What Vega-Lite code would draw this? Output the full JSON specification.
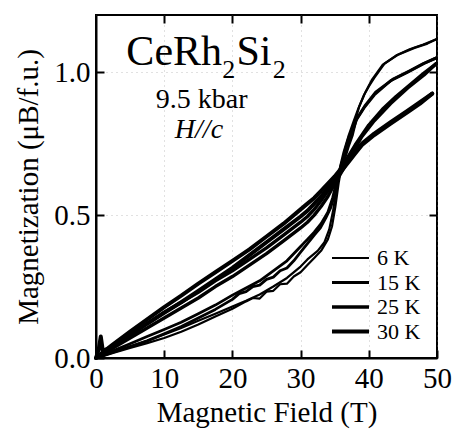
{
"$schema": "https://vega.github.io/schema/vega-lite/v6.json",
"autosize": {"type": "none"},
"padding": {"left": 96, "top": 15, "right": 17, "bottom": 71},
"width": 341,
"height": 343,
"background": "white",
"config": {
  "view": {"stroke": "black", "strokeWidth": 2},
  "font": "Liberation Serif",
  "axis": {"domainColor": "black", "domainWidth": 2, "tickColor": "black", "tickWidth": 2, "tickSize": -8,
    "labelFont": "Liberation Serif", "labelFontSize": 29, "labelColor": "black",
    "titleFont": "Liberation Serif", "titleFontSize": 29, "titleFontWeight": "normal", "titleColor": "black",
    "gridColor": "#888", "gridDash": [1, 4], "gridOpacity": 0.5, "gridWidth": 1},
  "text": {"font": "Liberation Serif", "color": "black"}
},
"datasets": {
"mag": [
{"T":"6 K","s":"u","H":0,"M":0},{"T":"6 K","s":"u","H":1,"M":0.006},{"T":"6 K","s":"u","H":2.5,"M":0.018},{"T":"6 K","s":"u","H":5,"M":0.035},{"T":"6 K","s":"u","H":7.5,"M":0.052},{"T":"6 K","s":"u","H":10,"M":0.07},{"T":"6 K","s":"u","H":12.5,"M":0.092},{"T":"6 K","s":"u","H":15,"M":0.117},{"T":"6 K","s":"u","H":17.5,"M":0.145},{"T":"6 K","s":"u","H":20,"M":0.172},{"T":"6 K","s":"u","H":22,"M":0.198},{"T":"6 K","s":"u","H":23,"M":0.21},{"T":"6 K","s":"u","H":24,"M":0.208},{"T":"6 K","s":"u","H":25,"M":0.232},{"T":"6 K","s":"u","H":26,"M":0.235},{"T":"6 K","s":"u","H":27,"M":0.258},{"T":"6 K","s":"u","H":28,"M":0.26},{"T":"6 K","s":"u","H":29,"M":0.285},{"T":"6 K","s":"u","H":30,"M":0.3},{"T":"6 K","s":"u","H":31,"M":0.325},{"T":"6 K","s":"u","H":32,"M":0.35},{"T":"6 K","s":"u","H":33,"M":0.375},{"T":"6 K","s":"u","H":34,"M":0.415},{"T":"6 K","s":"u","H":34.6,"M":0.46},{"T":"6 K","s":"u","H":35.1,"M":0.53},{"T":"6 K","s":"u","H":35.6,"M":0.615},{"T":"6 K","s":"u","H":36,"M":0.67},{"T":"6 K","s":"u","H":36.5,"M":0.73},{"T":"6 K","s":"u","H":37,"M":0.77},{"T":"6 K","s":"u","H":37.5,"M":0.8},{"T":"6 K","s":"u","H":38,"M":0.83},{"T":"6 K","s":"u","H":38.6,"M":0.88},{"T":"6 K","s":"u","H":39.3,"M":0.92},{"T":"6 K","s":"u","H":40,"M":0.95},{"T":"6 K","s":"u","H":40.8,"M":0.98},{"T":"6 K","s":"u","H":42.3,"M":1.03},{"T":"6 K","s":"u","H":44.2,"M":1.06},{"T":"6 K","s":"u","H":46.7,"M":1.085},{"T":"6 K","s":"u","H":48.6,"M":1.1},{"T":"6 K","s":"u","H":49.9,"M":1.115},
{"T":"6 K","s":"d","H":0,"M":0},{"T":"6 K","s":"d","H":1,"M":0.008},{"T":"6 K","s":"d","H":2.5,"M":0.02},{"T":"6 K","s":"d","H":5,"M":0.04},{"T":"6 K","s":"d","H":7.5,"M":0.06},{"T":"6 K","s":"d","H":10,"M":0.082},{"T":"6 K","s":"d","H":12.5,"M":0.105},{"T":"6 K","s":"d","H":15,"M":0.13},{"T":"6 K","s":"d","H":17.5,"M":0.155},{"T":"6 K","s":"d","H":20,"M":0.18},{"T":"6 K","s":"d","H":22,"M":0.2},{"T":"6 K","s":"d","H":24,"M":0.222},{"T":"6 K","s":"d","H":26,"M":0.25},{"T":"6 K","s":"d","H":28,"M":0.28},{"T":"6 K","s":"d","H":30,"M":0.32},{"T":"6 K","s":"d","H":31,"M":0.345},{"T":"6 K","s":"d","H":32.5,"M":0.375},{"T":"6 K","s":"d","H":33.5,"M":0.405},{"T":"6 K","s":"d","H":34.2,"M":0.45},{"T":"6 K","s":"d","H":34.8,"M":0.52},{"T":"6 K","s":"d","H":35.3,"M":0.6},{"T":"6 K","s":"d","H":35.8,"M":0.67},{"T":"6 K","s":"d","H":36.3,"M":0.72},{"T":"6 K","s":"d","H":37,"M":0.775},{"T":"6 K","s":"d","H":37.8,"M":0.83},{"T":"6 K","s":"d","H":38.5,"M":0.875},{"T":"6 K","s":"d","H":39.5,"M":0.93},{"T":"6 K","s":"d","H":40.5,"M":0.975},{"T":"6 K","s":"d","H":42,"M":1.025},{"T":"6 K","s":"d","H":44,"M":1.058},{"T":"6 K","s":"d","H":46,"M":1.08},{"T":"6 K","s":"d","H":48,"M":1.097},{"T":"6 K","s":"d","H":49.9,"M":1.115},
{"T":"15 K","s":"u","H":0,"M":0},{"T":"15 K","s":"u","H":1,"M":0.008},{"T":"15 K","s":"u","H":2.5,"M":0.02},{"T":"15 K","s":"u","H":5,"M":0.04},{"T":"15 K","s":"u","H":7.5,"M":0.06},{"T":"15 K","s":"u","H":10,"M":0.085},{"T":"15 K","s":"u","H":12.5,"M":0.11},{"T":"15 K","s":"u","H":15,"M":0.14},{"T":"15 K","s":"u","H":17.5,"M":0.17},{"T":"15 K","s":"u","H":20,"M":0.205},{"T":"15 K","s":"u","H":21,"M":0.225},{"T":"15 K","s":"u","H":22,"M":0.232},{"T":"15 K","s":"u","H":23,"M":0.25},{"T":"15 K","s":"u","H":24,"M":0.255},{"T":"15 K","s":"u","H":25,"M":0.275},{"T":"15 K","s":"u","H":26,"M":0.283},{"T":"15 K","s":"u","H":27,"M":0.305},{"T":"15 K","s":"u","H":28,"M":0.315},{"T":"15 K","s":"u","H":29,"M":0.34},{"T":"15 K","s":"u","H":30,"M":0.37},{"T":"15 K","s":"u","H":31,"M":0.4},{"T":"15 K","s":"u","H":32,"M":0.43},{"T":"15 K","s":"u","H":32.9,"M":0.455},{"T":"15 K","s":"u","H":33.7,"M":0.49},{"T":"15 K","s":"u","H":34.4,"M":0.525},{"T":"15 K","s":"u","H":35.1,"M":0.58},{"T":"15 K","s":"u","H":35.6,"M":0.635},{"T":"15 K","s":"u","H":36,"M":0.665},{"T":"15 K","s":"u","H":36.5,"M":0.7},{"T":"15 K","s":"u","H":37,"M":0.74},{"T":"15 K","s":"u","H":37.6,"M":0.78},{"T":"15 K","s":"u","H":38.1,"M":0.83},{"T":"15 K","s":"u","H":39.3,"M":0.875},{"T":"15 K","s":"u","H":40.8,"M":0.92},{"T":"15 K","s":"u","H":43.2,"M":0.97},{"T":"15 K","s":"u","H":45.7,"M":1.0},{"T":"15 K","s":"u","H":48.1,"M":1.03},{"T":"15 K","s":"u","H":49.9,"M":1.05},
{"T":"15 K","s":"d","H":0,"M":0},{"T":"15 K","s":"d","H":1,"M":0.01},{"T":"15 K","s":"d","H":2.5,"M":0.025},{"T":"15 K","s":"d","H":5,"M":0.05},{"T":"15 K","s":"d","H":7.5,"M":0.075},{"T":"15 K","s":"d","H":10,"M":0.1},{"T":"15 K","s":"d","H":12.5,"M":0.125},{"T":"15 K","s":"d","H":15,"M":0.155},{"T":"15 K","s":"d","H":17.5,"M":0.185},{"T":"15 K","s":"d","H":20,"M":0.22},{"T":"15 K","s":"d","H":22,"M":0.245},{"T":"15 K","s":"d","H":24,"M":0.27},{"T":"15 K","s":"d","H":26,"M":0.305},{"T":"15 K","s":"d","H":28,"M":0.34},{"T":"15 K","s":"d","H":30,"M":0.39},{"T":"15 K","s":"d","H":31,"M":0.415},{"T":"15 K","s":"d","H":32,"M":0.44},{"T":"15 K","s":"d","H":33,"M":0.47},{"T":"15 K","s":"d","H":34,"M":0.51},{"T":"15 K","s":"d","H":34.7,"M":0.56},{"T":"15 K","s":"d","H":35.3,"M":0.62},{"T":"15 K","s":"d","H":36,"M":0.68},{"T":"15 K","s":"d","H":36.8,"M":0.735},{"T":"15 K","s":"d","H":37.5,"M":0.785},{"T":"15 K","s":"d","H":38.3,"M":0.84},{"T":"15 K","s":"d","H":39.5,"M":0.885},{"T":"15 K","s":"d","H":41,"M":0.93},{"T":"15 K","s":"d","H":43.5,"M":0.975},{"T":"15 K","s":"d","H":46,"M":1.005},{"T":"15 K","s":"d","H":48,"M":1.03},{"T":"15 K","s":"d","H":49.9,"M":1.05},
{"T":"25 K","s":"u","H":0,"M":0},{"T":"25 K","s":"u","H":1,"M":0.012},{"T":"25 K","s":"u","H":2.5,"M":0.035},{"T":"25 K","s":"u","H":5,"M":0.07},{"T":"25 K","s":"u","H":7.5,"M":0.105},{"T":"25 K","s":"u","H":10,"M":0.14},{"T":"25 K","s":"u","H":12.5,"M":0.175},{"T":"25 K","s":"u","H":15,"M":0.21},{"T":"25 K","s":"u","H":17.5,"M":0.25},{"T":"25 K","s":"u","H":20,"M":0.285},{"T":"25 K","s":"u","H":22.5,"M":0.325},{"T":"25 K","s":"u","H":25,"M":0.365},{"T":"25 K","s":"u","H":27.5,"M":0.41},{"T":"25 K","s":"u","H":30,"M":0.455},{"T":"25 K","s":"u","H":31,"M":0.475},{"T":"25 K","s":"u","H":32,"M":0.5},{"T":"25 K","s":"u","H":33,"M":0.53},{"T":"25 K","s":"u","H":34,"M":0.565},{"T":"25 K","s":"u","H":35,"M":0.61},{"T":"25 K","s":"u","H":36,"M":0.65},{"T":"25 K","s":"u","H":37,"M":0.69},{"T":"25 K","s":"u","H":38,"M":0.735},{"T":"25 K","s":"u","H":39,"M":0.775},{"T":"25 K","s":"u","H":40.8,"M":0.83},{"T":"25 K","s":"u","H":43.2,"M":0.89},{"T":"25 K","s":"u","H":45.7,"M":0.945},{"T":"25 K","s":"u","H":48.1,"M":0.99},{"T":"25 K","s":"u","H":49.9,"M":1.03},
{"T":"25 K","s":"d","H":0,"M":0},{"T":"25 K","s":"d","H":1,"M":0.015},{"T":"25 K","s":"d","H":2.5,"M":0.04},{"T":"25 K","s":"d","H":5,"M":0.08},{"T":"25 K","s":"d","H":7.5,"M":0.12},{"T":"25 K","s":"d","H":10,"M":0.16},{"T":"25 K","s":"d","H":12.5,"M":0.195},{"T":"25 K","s":"d","H":15,"M":0.23},{"T":"25 K","s":"d","H":17.5,"M":0.27},{"T":"25 K","s":"d","H":20,"M":0.305},{"T":"25 K","s":"d","H":22.5,"M":0.345},{"T":"25 K","s":"d","H":25,"M":0.385},{"T":"25 K","s":"d","H":27.5,"M":0.43},{"T":"25 K","s":"d","H":30,"M":0.475},{"T":"25 K","s":"d","H":31,"M":0.495},{"T":"25 K","s":"d","H":32,"M":0.52},{"T":"25 K","s":"d","H":33,"M":0.55},{"T":"25 K","s":"d","H":34,"M":0.585},{"T":"25 K","s":"d","H":35,"M":0.625},{"T":"25 K","s":"d","H":36,"M":0.665},{"T":"25 K","s":"d","H":37,"M":0.705},{"T":"25 K","s":"d","H":38,"M":0.745},{"T":"25 K","s":"d","H":40,"M":0.815},{"T":"25 K","s":"d","H":42,"M":0.87},{"T":"25 K","s":"d","H":44,"M":0.915},{"T":"25 K","s":"d","H":46,"M":0.955},{"T":"25 K","s":"d","H":48,"M":0.995},{"T":"25 K","s":"d","H":49.9,"M":1.03},
{"T":"30 K","s":"u","H":0,"M":0},{"T":"30 K","s":"u","H":0.4,"M":0.03},{"T":"30 K","s":"u","H":0.7,"M":0.075},{"T":"30 K","s":"u","H":1,"M":0.025},{"T":"30 K","s":"u","H":2.5,"M":0.04},{"T":"30 K","s":"u","H":5,"M":0.08},{"T":"30 K","s":"u","H":7.5,"M":0.12},{"T":"30 K","s":"u","H":10,"M":0.158},{"T":"30 K","s":"u","H":12.5,"M":0.195},{"T":"30 K","s":"u","H":15,"M":0.235},{"T":"30 K","s":"u","H":17.5,"M":0.275},{"T":"30 K","s":"u","H":20,"M":0.315},{"T":"30 K","s":"u","H":22.5,"M":0.36},{"T":"30 K","s":"u","H":25,"M":0.405},{"T":"30 K","s":"u","H":27.5,"M":0.45},{"T":"30 K","s":"u","H":30,"M":0.495},{"T":"30 K","s":"u","H":31,"M":0.515},{"T":"30 K","s":"u","H":32,"M":0.54},{"T":"30 K","s":"u","H":33,"M":0.565},{"T":"30 K","s":"u","H":34,"M":0.595},{"T":"30 K","s":"u","H":35,"M":0.625},{"T":"30 K","s":"u","H":36,"M":0.655},{"T":"30 K","s":"u","H":37,"M":0.685},{"T":"30 K","s":"u","H":38,"M":0.715},{"T":"30 K","s":"u","H":39,"M":0.745},{"T":"30 K","s":"u","H":40.8,"M":0.78},{"T":"30 K","s":"u","H":43.2,"M":0.82},{"T":"30 K","s":"u","H":45.7,"M":0.86},{"T":"30 K","s":"u","H":47.5,"M":0.89},{"T":"30 K","s":"u","H":49.3,"M":0.925},
{"T":"30 K","s":"d","H":0,"M":0},{"T":"30 K","s":"d","H":1,"M":0.02},{"T":"30 K","s":"d","H":2.5,"M":0.048},{"T":"30 K","s":"d","H":5,"M":0.092},{"T":"30 K","s":"d","H":7.5,"M":0.135},{"T":"30 K","s":"d","H":10,"M":0.178},{"T":"30 K","s":"d","H":12.5,"M":0.218},{"T":"30 K","s":"d","H":15,"M":0.26},{"T":"30 K","s":"d","H":17.5,"M":0.3},{"T":"30 K","s":"d","H":20,"M":0.34},{"T":"30 K","s":"d","H":22.5,"M":0.38},{"T":"30 K","s":"d","H":25,"M":0.425},{"T":"30 K","s":"d","H":27.5,"M":0.47},{"T":"30 K","s":"d","H":30,"M":0.52},{"T":"30 K","s":"d","H":31,"M":0.54},{"T":"30 K","s":"d","H":32,"M":0.56},{"T":"30 K","s":"d","H":33,"M":0.585},{"T":"30 K","s":"d","H":34,"M":0.61},{"T":"30 K","s":"d","H":35,"M":0.635},{"T":"30 K","s":"d","H":36,"M":0.665},{"T":"30 K","s":"d","H":37,"M":0.695},{"T":"30 K","s":"d","H":38,"M":0.725},{"T":"30 K","s":"d","H":39,"M":0.75},{"T":"30 K","s":"d","H":40.8,"M":0.785},{"T":"30 K","s":"d","H":43.2,"M":0.825},{"T":"30 K","s":"d","H":45.7,"M":0.865},{"T":"30 K","s":"d","H":47.5,"M":0.895},{"T":"30 K","s":"d","H":49.3,"M":0.925}
]
},
"layer": [
  {
    "data": {"name": "mag"},
    "mark": {"type": "line", "stroke": "black", "strokeJoin": "round", "strokeCap": "round"},
    "encoding": {
      "x": {"field": "H", "type": "quantitative", "scale": {"domain": [0, 50], "nice": false},
        "axis": {"orient": "bottom", "title": "Magnetic Field (T)", "values": [0, 10, 20, 30, 40, 50], "labelFlush": false, "labelOverlap": false, "labelPadding": 14, "titlePadding": 5, "grid": true}},
      "y": {"field": "M", "type": "quantitative", "scale": {"domain": [0, 1.2], "nice": false},
        "axis": {"orient": "left", "title": "Magnetization (μB/f.u.)", "values": [0, 0.5, 1.0], "format": ".1f", "labelOverlap": false, "labelPadding": 14, "titlePadding": 10, "grid": true}},
      "detail": {"field": "s"},
      "strokeWidth": {"field": "T", "type": "ordinal", "sort": ["6 K", "15 K", "25 K", "30 K"],
        "scale": {"domain": ["6 K", "15 K", "25 K", "30 K"], "range": [2.2, 4, 5.5, 8]},
        "legend": {"orient": "none", "legendX": 234, "legendY": 231, "title": null, "symbolType": "stroke", "symbolSize": 1369, "clipHeight": 24,
          "symbolStrokeColor": "black", "labelFont": "Liberation Serif", "labelFontSize": 22, "labelColor": "black", "rowPadding": 0.5, "labelOffset": 6}}
    }
  },
  {
    "data": {"values": [{}]},
    "mark": {"type": "text", "fontSize": 42, "align": "right", "baseline": "alphabetic"},
    "encoding": {
      "x": {"datum": 18.48, "type": "quantitative", "axis": {"orient": "top", "labels": false, "title": null, "grid": false, "values": [10, 20, 30, 40], "domain": false}},
      "y": {"datum": 1.025, "type": "quantitative", "axis": {"orient": "right", "labels": false, "title": null, "grid": false, "values": [0.5, 1.0], "domain": false}},
      "text": {"value": "CeRh"}
    }
  },
  {
    "data": {"values": [{}]},
    "mark": {"type": "text", "fontSize": 26, "align": "left", "baseline": "alphabetic"},
    "encoding": {
      "x": {"datum": 18.5, "type": "quantitative", "axis": null},
      "y": {"datum": 0.98, "type": "quantitative", "axis": null},
      "text": {"value": "2"}
    }
  },
  {
    "data": {"values": [{}]},
    "mark": {"type": "text", "fontSize": 42, "align": "left", "baseline": "alphabetic"},
    "encoding": {
      "x": {"datum": 20.6, "type": "quantitative", "axis": null},
      "y": {"datum": 1.025, "type": "quantitative", "axis": null},
      "text": {"value": "Si"}
    }
  },
  {
    "data": {"values": [{}]},
    "mark": {"type": "text", "fontSize": 26, "align": "left", "baseline": "alphabetic"},
    "encoding": {
      "x": {"datum": 25.9, "type": "quantitative", "axis": null},
      "y": {"datum": 0.98, "type": "quantitative", "axis": null},
      "text": {"value": "2"}
    }
  },
  {
    "data": {"values": [{}]},
    "mark": {"type": "text", "fontSize": 28, "align": "center", "baseline": "alphabetic"},
    "encoding": {
      "x": {"datum": 15.5, "type": "quantitative", "axis": null},
      "y": {"datum": 0.875, "type": "quantitative", "axis": null},
      "text": {"value": "9.5 kbar"}
    }
  },
  {
    "data": {"values": [{}]},
    "mark": {"type": "text", "fontSize": 28, "fontStyle": "italic", "align": "center", "baseline": "alphabetic"},
    "encoding": {
      "x": {"datum": 15.1, "type": "quantitative", "axis": null},
      "y": {"datum": 0.77, "type": "quantitative", "axis": null},
      "text": {"value": "H//c"}
    }
  }
],
"resolve": {"axis": {"x": "independent", "y": "independent"}}
}
